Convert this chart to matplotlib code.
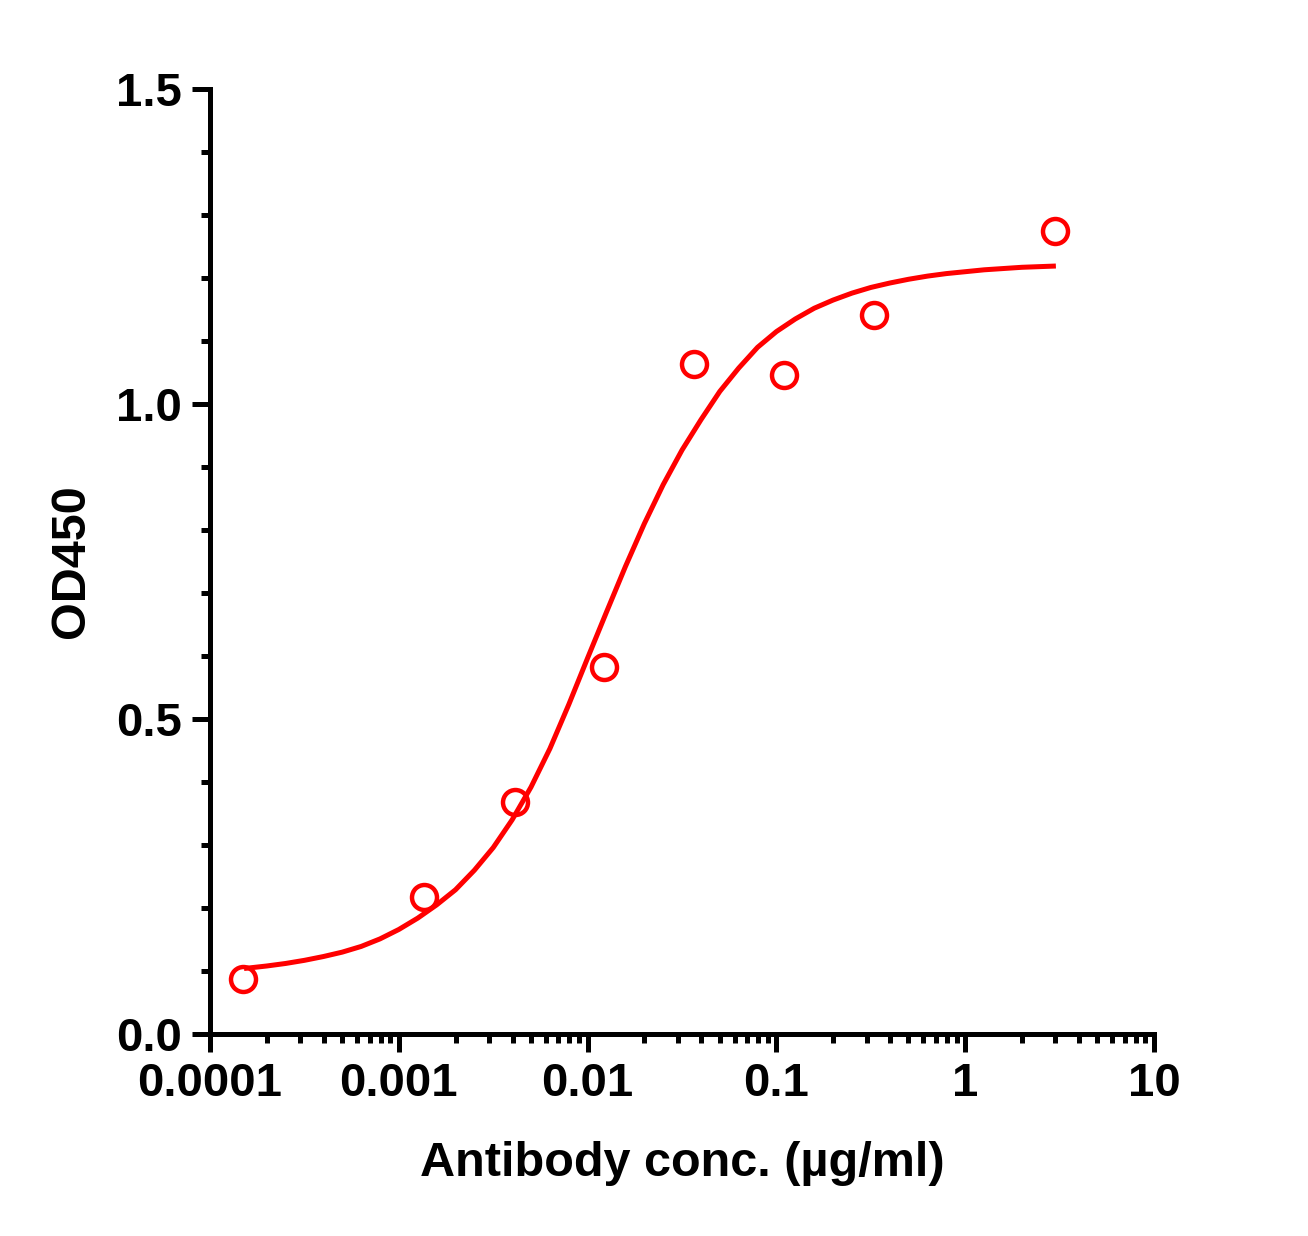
import matplotlib.pyplot as plt
import numpy as np
from matplotlib.ticker import LogLocator, MultipleLocator

plt.rcParams['font.family'] = ['Liberation Sans', 'DejaVu Sans']
plt.rcParams['font.weight'] = 'bold'

# measured points (ug/ml, OD450)
conc = [0.000150, 0.00136, 0.00412, 0.0122, 0.0367, 0.110, 0.329, 2.99]
od = [0.088, 0.218, 0.369, 0.583, 1.064, 1.046, 1.142, 1.274]

# fitted curve (log10 of conc, OD450)
fit_logx = [-3.82, -3.70, -3.60, -3.50, -3.40, -3.30, -3.20, -3.10, -3.00,
            -2.90, -2.80, -2.70, -2.60, -2.50, -2.40, -2.30, -2.20, -2.10,
            -2.00, -1.90, -1.80, -1.70, -1.60, -1.50, -1.40, -1.30, -1.20,
            -1.10, -1.00, -0.90, -0.80, -0.70, -0.60, -0.50, -0.40, -0.30,
            -0.20, -0.10, 0.00, 0.10, 0.20, 0.30, 0.48]
fit_od = [0.104, 0.108, 0.112, 0.117, 0.123, 0.130, 0.139, 0.151, 0.166,
          0.184, 0.205, 0.229, 0.260, 0.296, 0.340, 0.392, 0.453, 0.523,
          0.597, 0.670, 0.742, 0.810, 0.872, 0.927, 0.975, 1.020, 1.057,
          1.090, 1.115, 1.135, 1.152, 1.165, 1.176, 1.185, 1.192, 1.198,
          1.203, 1.207, 1.210, 1.213, 1.215, 1.217, 1.219]

x_ticks = [0.0001, 0.001, 0.01, 0.1, 1, 10]
x_labels = ["0.0001", "0.001", "0.01", "0.1", "1", "10"]
y_ticks = [0.0, 0.5, 1.0, 1.5]
y_labels = ["0.0", "0.5", "1.0", "1.5"]

red = "#ff0000"

fig = plt.figure(figsize=(13.08, 12.36), dpi=100)
ax = fig.add_axes([0.1606, 0.1634, 0.7217, 0.7646])

ax.plot(10 ** np.array(fit_logx), fit_od, color=red, lw=3.6,
        solid_capstyle='butt', solid_joinstyle='round', zorder=2)
ax.plot(conc, od, 'o', ms=18, mfc='none', mec=red, mew=3.2, zorder=3,
        clip_on=False)

ax.set_xscale('log')
ax.set_xlim(0.0001, 10)
ax.set_ylim(0, 1.5)

ax.set_xticks(x_ticks)
ax.set_xticklabels(x_labels)
ax.xaxis.set_minor_locator(LogLocator(base=10, subs=np.arange(2, 10)))
ax.xaxis.set_minor_formatter(plt.NullFormatter())
ax.set_yticks(y_ticks)
ax.set_yticklabels(y_labels)
ax.yaxis.set_minor_locator(MultipleLocator(0.1))

for s in ['top', 'right']:
    ax.spines[s].set_visible(False)
for s in ['left', 'bottom']:
    ax.spines[s].set_linewidth(3.6)

ax.tick_params(which='major', length=13, width=3.6, labelsize=34, pad=7)
ax.tick_params(which='minor', length=6.5, width=3.6)

ax.set_xlabel("Antibody conc. (µg/ml)", fontsize=35, fontweight='bold', labelpad=25)
ax.set_ylabel("OD450", fontsize=35, fontweight='bold', labelpad=16)

fig.savefig("out.png", dpi=100)
